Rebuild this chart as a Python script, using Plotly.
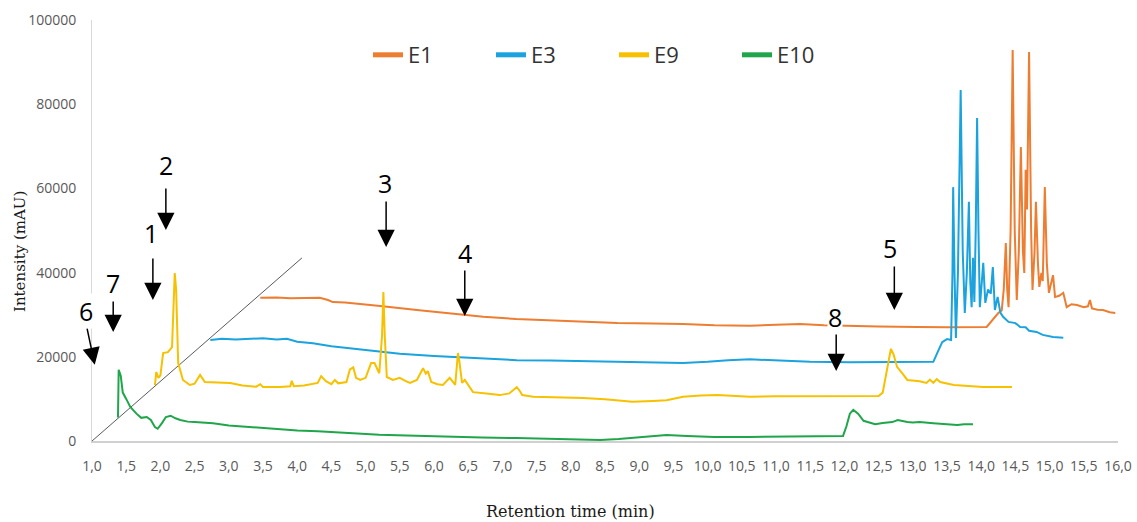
import plotly.graph_objects as go

# ---------------- data ----------------
e1_t = [3.46, 3.7, 3.9, 4.1, 4.33, 4.45, 4.52, 4.7, 4.92, 5.25, 5.75, 6.2, 6.72, 7.2, 7.7, 8.2, 8.68,
        9.2, 9.64, 10.1, 10.62, 11.0, 11.35, 11.7, 12.08, 12.5, 13.06, 13.5, 14.08, 14.16, 14.25, 14.3,
        14.33, 14.36, 14.38, 14.40, 14.43, 14.46, 14.49, 14.52, 14.55, 14.58, 14.61, 14.63, 14.65, 14.67,
        14.70, 14.73, 14.75, 14.78, 14.80, 14.83, 14.85, 14.88, 14.9, 14.93, 14.96, 14.99, 15.02, 15.05,
        15.08, 15.14, 15.2, 15.25, 15.32, 15.4, 15.5, 15.56, 15.59, 15.62, 15.7, 15.78, 15.88, 15.96]
e1_i = [34000, 34100, 33900, 34000, 34000, 33500, 33000, 32900, 32600, 32000, 31100, 30300, 29500, 29000,
        28700, 28300, 28000, 27900, 27800, 27500, 27400, 27600, 27800, 27500, 27300, 27200, 27100, 27000,
        27100, 28700, 30400, 31000, 36000, 47000, 36000, 31800, 50000, 92900, 50000, 33500, 45000, 69800,
        45000, 39900, 64400, 55000, 92400, 50000, 35900, 45000, 56800, 42000, 36600, 39900, 38000, 60300,
        42000, 35200, 37000, 39400, 34200, 34500, 35200, 31800, 32500, 32300, 31800, 32000, 33500, 31500,
        31200, 31100, 30600, 30400]

e3_t = [2.73, 2.9, 3.1, 3.3, 3.5, 3.7, 3.85, 4.0, 4.23, 4.5, 4.77, 5.0, 5.5, 6.0, 6.23, 6.7, 7.21, 7.7,
        8.2, 8.68, 9.2, 9.64, 10.0, 10.3, 10.62, 11.0, 11.5, 12.08, 12.6, 13.0, 13.3, 13.36, 13.43, 13.5,
        13.56, 13.58, 13.59, 13.61, 13.63, 13.66, 13.70, 13.73, 13.76, 13.79, 13.82, 13.84, 13.86, 13.88,
        13.9, 13.92, 13.94, 13.96, 13.98, 14.01, 14.03, 14.06, 14.1, 14.14, 14.17, 14.2, 14.24, 14.28,
        14.32, 14.4, 14.5, 14.57, 14.65, 14.7, 14.81, 14.9, 15.05, 15.2]
e3_i = [24000, 24300, 24100, 24300, 24400, 24100, 24300, 23600, 23200, 22500, 22000, 21600, 20700, 20200,
        20000, 19600, 19200, 19100, 18900, 18800, 18600, 18500, 18800, 19200, 19400, 19100, 18800, 18700,
        18800, 18700, 18800, 21000, 23500, 24200, 24000, 40000, 60300, 40000, 24500, 40000, 83400, 45000,
        30400, 40000, 56800, 38000, 31800, 43500, 33000, 50000, 76700, 50000, 31800, 38000, 42300, 32800,
        36000, 35000, 41300, 31100, 34200, 30500, 29500, 28300, 28000, 27100, 27000, 26200, 25900, 25200,
        24700, 24500]

e9_t = [1.92, 1.94, 1.97, 2.0, 2.04, 2.11, 2.17, 2.2, 2.21, 2.23, 2.26, 2.33, 2.43, 2.5, 2.58, 2.65, 2.8,
        3.02, 3.2, 3.4, 3.46, 3.5, 3.75, 3.9, 3.92, 3.95, 4.1, 4.3, 4.35, 4.42, 4.5, 4.55, 4.6, 4.72, 4.77,
        4.82, 4.86, 4.92, 5.0, 5.08, 5.13, 5.2, 5.24, 5.26, 5.28, 5.31, 5.4, 5.5, 5.58, 5.65, 5.75, 5.84,
        5.88, 5.91, 5.96, 6.05, 6.13, 6.23, 6.28, 6.31, 6.34, 6.35, 6.37, 6.41, 6.45, 6.5, 6.57, 6.8, 6.96,
        7.1, 7.18, 7.21, 7.25, 7.29, 7.45, 7.8, 8.18, 8.5, 8.9, 9.2, 9.4, 9.64, 9.9, 10.14, 10.62, 11.0,
        11.5, 12.0, 12.5, 12.56, 12.62, 12.68, 12.72, 12.77, 12.85, 12.92, 13.1, 13.2, 13.25, 13.3, 13.35,
        13.4, 13.6, 13.8, 14.03, 14.25, 14.45]
e9_i = [13300, 16400, 15000, 15600, 20900, 21100, 22300, 36000, 39900, 36000, 18500, 14500, 13300, 13600,
        15700, 14000, 13900, 13800, 13200, 12900, 13500, 12800, 12800, 13000, 14300, 13000, 13200, 13800,
        15400, 14200, 13500, 14500, 13700, 14000, 17000, 17500, 15000, 14500, 15000, 18500, 18500, 16100,
        25000, 35400, 25000, 15200, 14500, 15000, 14300, 13800, 14500, 17300, 16000, 16600, 14000, 13500,
        13300, 15000, 14000, 13300, 19000, 20900, 19000, 13800, 14500, 13200, 11600, 11200, 10900, 11300,
        12300, 12800, 12000, 10900, 10500, 10400, 10200, 9900, 9300, 9500, 9700, 10500, 10800, 10900,
        10500, 10600, 10600, 10700, 10700, 11500, 16900, 21900, 20500, 17600, 16000, 14500, 14200, 13800,
        14600, 13800, 14700, 14000, 13300, 13000, 12800, 12800, 12800]

e10_t = [1.38, 1.39, 1.42, 1.45, 1.5, 1.56, 1.65, 1.72, 1.80, 1.86, 1.92, 1.96, 2.02, 2.08, 2.15, 2.22,
         2.29, 2.4, 2.5, 2.65, 2.77, 3.0, 3.3, 3.5, 3.75, 4.0, 4.3, 4.6, 4.87, 5.2, 5.6, 6.0, 6.23, 6.7,
         7.2, 7.6, 8.0, 8.43, 8.7, 8.9, 9.1, 9.4, 9.7, 10.1, 10.6, 11.0, 11.5, 11.98, 12.03, 12.08, 12.13,
         12.2, 12.28, 12.37, 12.45, 12.56, 12.7, 12.78, 12.86, 12.92, 13.0, 13.1, 13.3, 13.5, 13.65, 13.75,
         13.88]
e10_i = [5600, 16900, 15500, 11500, 10000, 8100, 6500, 5500, 5700, 5000, 3300, 2900, 4200, 5700, 6000,
         5400, 5000, 4600, 4500, 4400, 4200, 3700, 3300, 3000, 2700, 2500, 2300, 2000, 1900, 1500, 1300,
         1100, 950, 850, 700, 600, 400, 250, 450, 700, 1000, 1400, 1200, 950, 950, 1000, 1100, 1200, 3500,
         6500, 7400, 6500, 4800, 4300, 4000, 4300, 4500, 5000, 4700, 4500, 4400, 4500, 4200, 4000, 3800,
         4000, 4000]

series_names = ["E1", "E3", "E9", "E10"]
series_colors = ["#ED7D31", "#1AA3DE", "#F7C100", "#1FA64A"]

# pseudo-3D baseline diagonal
diag_t = [1.0, 4.07]
diag_i = [0, 43500]

x_ticks = [1.0 + 0.5 * k for k in range(31)]
x_tick_labels = [f"{v:.1f}".replace(".", ",") for v in x_ticks]
y_ticks = [0, 20000, 40000, 60000, 80000, 100000]

# peak markers: label, tip (t, intensity), tail offset (px), label offset (px)
markers = [
    ("1", 1.89, 33500, 0, -43, -2, 67),
    ("2", 2.08, 50100, 0, -43, 0, 65),
    ("3", 5.30, 46100, 0, -47, -1, 64),
    ("4", 6.45, 29700, 0, -48, 0, 63),
    ("5", 12.73, 31100, 0, -45, -4, 62),
    ("6", 1.04, 18100, -8, -38, -9, 54),
    ("7", 1.31, 25900, 0, -32, 0, 49),
    ("8", 11.88, 16600, 0, -39, -1, 54),
]

# ---------------- figure ----------------
FIG_W, FIG_H = 1137, 522
PL, PT, PW, PH = 92, 20, 1026, 421   # plot-area box in pixels

fig = go.Figure()

fig.add_trace(go.Scatter(x=diag_t, y=diag_i, mode="lines",
                         line=dict(color="#5a5a5a", width=1), showlegend=False, hoverinfo="skip"))

data = [(e1_t, e1_i), (e3_t, e3_i), (e9_t, e9_i), (e10_t, e10_i)]
for (t, i), name, col in zip(data, series_names, series_colors):
    fig.add_trace(go.Scatter(x=t, y=i, mode="lines", name=name,
                             line=dict(color=col, width=2), showlegend=False))
# legend entries (thicker sample lines)
for name, col in zip(series_names, series_colors):
    fig.add_trace(go.Scatter(x=[None], y=[None], mode="lines", name=name,
                             line=dict(color=col, width=5)))

annotations = []
for lab, tx, ty, ax, ay, lx, ly in markers:
    annotations.append(dict(x=tx, y=ty, xref="x", yref="y", text="", showarrow=True,
                            ax=ax, ay=ay, axref="pixel", ayref="pixel",
                            arrowhead=2, arrowsize=2.3, arrowwidth=1.5, arrowcolor="black"))
    annotations.append(dict(x=tx, y=ty, xref="x", yref="y", text=lab, showarrow=False,
                            xshift=lx, yshift=ly, bgcolor="white", borderpad=0,
                            font=dict(family="Open Sans", size=25, color="black")))

annotations.append(dict(x=(570 - PL) / PW, y=-(512 - (PT + PH)) / PH, xref="paper", yref="paper",
                        xanchor="center", yanchor="middle",
                        text="Retention time (min)", showarrow=False,
                        font=dict(family="DejaVu Serif", size=16, color="#1a1a1a")))
annotations.append(dict(x=-(PL - 20) / PW, y=1 - (252 - PT) / PH, xref="paper", yref="paper",
                        xanchor="center", yanchor="middle",
                        text="Intensity (mAU)", showarrow=False, textangle=-90,
                        font=dict(family="DejaVu Serif", size=15, color="#1a1a1a")))

fig.update_layout(
    width=FIG_W, height=FIG_H,
    margin=dict(l=PL, r=FIG_W - PL - PW, t=PT, b=FIG_H - PT - PH, autoexpand=False),
    paper_bgcolor="white", plot_bgcolor="white",
    showlegend=True,
    legend=dict(orientation="h", x=(368 - PL) / PW, y=1 - (55 - PT) / PH, xanchor="left", yanchor="middle",
                font=dict(family="Open Sans", size=22, color="#333333"),
                entrywidth=78, entrywidthmode="pixels", bgcolor="rgba(0,0,0,0)"),
    annotations=annotations,
)

fig.update_xaxes(range=[1, 16], tickmode="array", tickvals=x_ticks, ticktext=x_tick_labels,
                 showgrid=False, zeroline=False, showline=True, linecolor="#d0d0d0", linewidth=1.5,
                 ticks="", ticklabelstandoff=11, automargin=False, ticklabeloverflow="allow",
                 tickfont=dict(family="Open Sans", size=14, color="#595959"))
fig.update_yaxes(range=[0, 100000], tickmode="array", tickvals=y_ticks,
                 ticktext=[str(v) for v in y_ticks],
                 showgrid=False, zeroline=False, showline=True, linecolor="#d9d9d9", linewidth=1,
                 ticks="", ticklabelstandoff=12, automargin=False,
                 tickfont=dict(family="Open Sans", size=14, color="#595959"))

# remove the browser's default 8px page margin so the figure fills the window exactly
fig.write_html("out.html", config={"displayModeBar": False},
               post_script="document.body.style.margin='0';document.body.style.overflow='hidden';")
